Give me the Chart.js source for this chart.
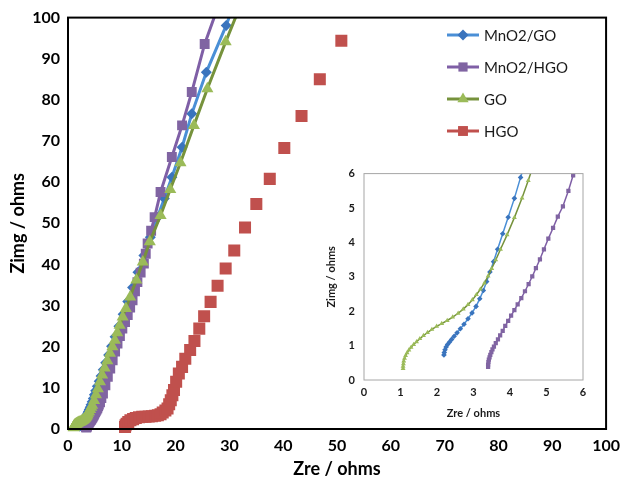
<!DOCTYPE html>
<html><head><meta charset="utf-8">
<script src="https://cdn.jsdelivr.net/npm/chart.js@4.4.1/dist/chart.umd.min.js"></script>
<style>
html,body{margin:0;padding:0;background:#fff;}
#wrap{position:relative;width:627px;height:486px;overflow:hidden;}
#main{position:absolute;left:0;top:0;}
#inset{position:absolute;left:318px;top:158px;}
</style></head><body>
<div id="wrap">
<canvas id="main" width="627" height="486" style="width:627px;height:486px"></canvas>
<canvas id="inset" width="294" height="268" style="width:294px;height:268px"></canvas>
</div>
<script>
// ---- data ----
const seriesNames = ['MnO2/GO', 'MnO2/HGO', 'GO', 'HGO'];

const mno2goX = [2.19,2.20,2.22,2.25,2.29,2.34,2.40,2.47,2.55,2.64,2.74,2.85,2.96,3.07,3.17,3.27,3.36,3.45,3.55,3.66,3.80,3.95,4.12,4.29,
  4.50,4.70,4.90,5.15,5.45,5.80,6.15,6.55,7.00,7.55,8.10,8.75,9.45,10.25,11.10,12.00,13.00,14.10,15.30,16.60,17.90,19.30,21.20,23.00,25.70,29.40,31.60];
const mno2goY = [0.73,0.80,0.88,0.96,1.03,1.10,1.18,1.27,1.37,1.49,1.62,1.78,1.95,2.14,2.36,2.60,2.86,3.14,3.44,3.80,4.25,4.73,5.28,5.89,
  6.60,7.40,8.30,9.30,10.40,11.60,12.90,14.40,16.10,18.00,20.10,22.40,25.00,27.90,31.00,34.40,38.10,42.20,46.60,51.40,56.00,61.20,68.50,76.60,86.70,98.10,106.0];

const mno2hgoX = [3.40,3.40,3.41,3.42,3.44,3.46,3.49,3.52,3.56,3.61,3.67,3.73,3.80,3.87,3.95,4.03,4.12,4.21,4.31,4.41,4.51,4.61,4.71,4.82,4.93,5.05,5.18,5.31,5.45,5.60,5.73,
  5.95,6.20,6.50,6.95,7.40,7.85,8.30,8.75,9.20,9.65,10.10,10.60,11.10,11.55,12.00,12.45,12.90,13.50,14.10,14.45,14.80,15.45,16.10,17.20,19.30,21.20,23.00,25.40,28.80];
const mno2hgoY = [0.38,0.45,0.52,0.59,0.66,0.73,0.81,0.89,0.97,1.07,1.18,1.30,1.43,1.57,1.72,1.87,2.03,2.20,2.38,2.58,2.79,3.01,3.25,3.51,3.80,4.11,4.42,4.75,5.05,5.50,5.95,
  6.50,7.50,8.60,10.60,12.70,14.70,16.70,18.80,20.80,22.60,24.40,26.00,27.70,29.50,31.30,33.50,35.70,38.00,40.20,42.60,45.10,48.20,51.50,57.60,66.10,73.80,81.90,93.60,106.0];

const goX = [1.07,1.07,1.08,1.09,1.11,1.14,1.18,1.23,1.29,1.36,1.44,1.53,1.63,1.74,1.86,1.99,2.13,2.28,2.43,2.58,2.72,2.85,2.97,3.08,3.19,3.30,3.40,3.50,3.61,3.74,3.92,4.12,4.33,4.50,
  4.85,5.20,5.55,5.95,6.35,6.80,7.30,7.80,8.25,8.70,9.15,9.60,10.15,10.75,11.55,12.70,13.90,15.20,17.20,19.00,20.90,23.40,25.90,29.30,33.30];
const goY = [0.33,0.40,0.47,0.55,0.63,0.71,0.79,0.87,0.95,1.03,1.11,1.20,1.29,1.38,1.47,1.56,1.64,1.73,1.83,1.94,2.06,2.19,2.33,2.48,2.64,2.82,3.02,3.24,3.49,3.80,4.22,4.72,5.29,5.80,
  6.90,8.30,9.80,11.50,13.10,14.80,16.60,18.40,20.00,21.60,23.40,25.20,27.20,29.30,32.10,36.20,40.60,45.50,51.90,58.20,64.70,73.80,82.70,94.10,107.0];

const hgoX = [10.60,10.70,10.90,11.20,11.60,12.10,12.60,13.20,13.80,14.40,15.00,15.60,16.20,16.70,17.20,17.60,18.10,18.50,18.80,19.10,19.40,19.70,20.10,20.60,21.20,21.80,22.70,23.50,24.40,25.30,26.50,27.80,29.30,30.90,32.90,35.00,37.50,40.20,43.40,46.80,50.80];
const hgoY = [0.50,0.90,1.30,1.70,2.10,2.40,2.65,2.85,2.95,3.00,3.05,3.10,3.20,3.35,3.60,4.00,4.50,5.00,6.00,7.00,8.20,9.50,11.50,13.50,15.10,17.10,19.20,21.40,24.40,27.40,30.90,34.80,39.00,43.40,49.00,54.70,60.80,68.30,76.10,85.00,94.40];

const mainTicks = [0,10,20,30,40,50,60,70,80,90,100];
const insetTicks = [0,1,2,3,4,5,6];

// ---- styles ----
const FONT = 'Lato, "Liberation Sans", sans-serif';
const styles = [
  {line:'#4a8fd6', fill:'#3a74bd', shape:'rectRot', r:5.5, lr:5.5, ir:2.8, showLine:true},
  {line:'#7f5fa6', fill:'#8064a2', shape:'rect', r:7, lr:6.5, ir:3.0, showLine:true},
  {line:'#76923c', fill:'#9bbb59', shape:'triangle', r:7, lr:6.5, ir:2.8, showLine:true},
  {line:'#c0504d', fill:'#c0504d', shape:'rect', r:8.5, lr:7, ir:2, showLine:false}
];
const seriesX = [mno2goX, mno2hgoX, goX, hgoX];
const seriesY = [mno2goY, mno2hgoY, goY, hgoY];
const pts = (xs, ys) => xs.map((x, i) => ({x: x, y: ys[i]}));

const mainOrder = [3, 2, 1, 0];
const mainDatasets = seriesNames.map((name, i) => ({
  label: name,
  data: pts(seriesX[i], seriesY[i]),
  showLine: styles[i].showLine,
  borderColor: styles[i].line,
  borderWidth: 3,
  pointStyle: styles[i].shape,
  pointRadius: styles[i].r,
  pointBackgroundColor: styles[i].fill,
  pointBorderWidth: 0,
  pointHoverRadius: styles[i].r,
  tension: 0,
  order: mainOrder[i],
  clip: {left: 8, top: 0, right: 0, bottom: 6}
}));

const framePlugin = {
  id: 'frame',
  afterDatasetsDraw(chart, args, opts) {
    const {ctx, chartArea: a} = chart;
    ctx.save();
    ctx.strokeStyle = opts.color;
    ctx.lineWidth = opts.width;
    ctx.strokeRect(a.left, a.top, a.right - a.left, a.bottom - a.top);
    ctx.restore();
  }
};

const legendPlugin = {
  id: 'customLegend',
  afterDraw(chart) {
    const ctx = chart.ctx;
    const x0 = 447, x1 = 479, tx = 484;
    const rows = [35, 67, 99, 131];
    ctx.save();
    seriesNames.forEach((name, i) => {
      const y = rows[i];
      const s = styles[i];
      ctx.strokeStyle = s.line;
      ctx.lineWidth = 3;
      ctx.beginPath(); ctx.moveTo(x0, y); ctx.lineTo(x1, y); ctx.stroke();
      ctx.fillStyle = s.fill;
      Chart.helpers.drawPoint(ctx, {pointStyle: s.shape, radius: s.lr, rotation: 0, borderWidth: 0}, (x0 + x1) / 2, y);
      ctx.fillStyle = '#1a1a1a';
      ctx.font = '15px ' + FONT;
      ctx.textBaseline = 'middle';
      ctx.textAlign = 'left';
      ctx.fillText(name, tx, y + 1);
    });
    ctx.restore();
  }
};

new Chart(document.getElementById('main'), {
  type: 'scatter',
  data: {datasets: mainDatasets},
  plugins: [framePlugin, legendPlugin],
  options: {
    responsive: false,
    animation: false,
    events: [],
    layout: {padding: {left: 0, right: 14, top: 17, bottom: 0}},
    plugins: {legend: {display: false}, tooltip: {enabled: false}, frame: {color: '#000', width: 2}},
    scales: {
      x: {
        type: 'linear', min: 0, max: 100,
        afterBuildTicks: s => { s.ticks = mainTicks.map(v => ({value: v})); },
        ticks: {font: {family: FONT, weight: 'bold', size: 16}, color: '#000', padding: 7, maxRotation: 0},
        grid: {display: false, drawTicks: false},
        border: {display: false},
        title: {display: true, text: 'Zre / ohms', color: '#000', font: {family: FONT, weight: 'bold', size: 18}, padding: {top: 0, bottom: 6}},
        afterFit: s => { s.height = 57; }
      },
      y: {
        type: 'linear', min: 0, max: 100,
        afterBuildTicks: s => { s.ticks = mainTicks.map(v => ({value: v})); },
        ticks: {font: {family: FONT, weight: 'bold', size: 16}, color: '#000', padding: 8},
        grid: {display: false, drawTicks: false},
        border: {display: false},
        title: {display: true, text: 'Zimg / ohms', color: '#000', font: {family: FONT, weight: 'bold', size: 18}, padding: {top: 7, bottom: 0}},
        afterFit: s => { s.width = 68; }
      }
    }
  }
});

// ---- inset ----
const insetDatasets = [0, 1, 2].map(i => ({
  label: seriesNames[i],
  data: pts(seriesX[i], seriesY[i]),
  showLine: true,
  borderColor: styles[i].line,
  borderWidth: 1.5,
  pointStyle: styles[i].shape,
  pointRadius: styles[i].ir,
  pointBackgroundColor: styles[i].fill,
  pointBorderWidth: 0,
  tension: 0,
  order: mainOrder[i],
  clip: 0
}));

new Chart(document.getElementById('inset'), {
  type: 'scatter',
  data: {datasets: insetDatasets},
  plugins: [framePlugin],
  options: {
    responsive: false,
    animation: false,
    events: [],
    layout: {padding: {left: 0, right: 29, top: 10, bottom: 0}},
    plugins: {legend: {display: false}, tooltip: {enabled: false}, frame: {color: '#a6a6a6', width: 1}},
    scales: {
      x: {
        type: 'linear', min: 0, max: 6,
        afterBuildTicks: s => { s.ticks = insetTicks.map(v => ({value: v})); },
        ticks: {font: {family: FONT, weight: 'bold', size: 11}, color: '#1a1a1a', padding: 6, maxRotation: 0},
        grid: {display: false, drawTicks: false},
        border: {display: false},
        title: {display: true, text: 'Zre / ohms', color: '#1a1a1a', font: {family: FONT, weight: 'bold', size: 11}, padding: {top: 0, bottom: 6}},
        afterFit: s => { s.height = 46; }
      },
      y: {
        type: 'linear', min: 0, max: 6,
        afterBuildTicks: s => { s.ticks = insetTicks.map(v => ({value: v})); },
        ticks: {font: {family: FONT, weight: 'bold', size: 11}, color: '#1a1a1a', padding: 9},
        grid: {display: false, drawTicks: false},
        border: {display: false},
        title: {display: true, text: 'Zimg / ohms', color: '#1a1a1a', font: {family: FONT, weight: 'bold', size: 11}, padding: {top: 7, bottom: 0}},
        afterFit: s => { s.width = 46; }
      }
    }
  }
});
</script>
</body></html>
